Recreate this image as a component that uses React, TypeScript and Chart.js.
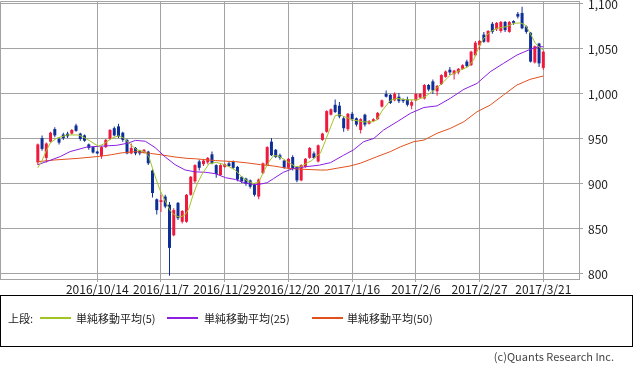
import React, { useEffect, useRef } from "react";
import { Chart, registerables } from "chart.js";
Chart.register(...registerables);

const opens = [
  924, 951, 929, 947, 961, 950, 955, 956, 956, 965,
  956, 954, 944, 941, 936, 931, 941, 950, 962, 964,
  957, 949, 934, 940, 937, 935, 936, 915, 883, 880,
  886, 877, 843, 879, 858, 858, 888, 903, 925, 922,
  924, 933, 921, 910, 919, 923, 925, 919, 908, 906,
  904, 899, 886, 912, 921, 947, 938, 932, 926, 918,
  930, 919, 904, 919, 929, 934, 925, 949, 958, 977,
  988, 987, 973, 961, 978, 973, 960, 977, 967, 970,
  972, 986, 1000, 999, 993, 997, 994, 994, 987, 993,
  996, 995, 1010, 1014, 1003, 1011, 1019, 1027, 1022, 1024,
  1028, 1036, 1032, 1043, 1054, 1066, 1058, 1078, 1072, 1070,
  1080, 1069, 1081, 1089, 1090, 1075, 1068, 1035, 1056, 1029,
];
const closes = [
  944, 939, 945, 957, 954, 946, 951, 953, 960, 959,
  950, 948, 940, 935, 934, 941, 949, 960, 954, 953,
  949, 934, 940, 934, 934, 938, 923, 890, 871, 882,
  875, 829, 871, 862, 870, 888, 908, 921, 918, 926,
  929, 923, 911, 921, 922, 920, 918, 905, 903, 900,
  897, 888, 905, 923, 941, 932, 930, 929, 918, 928,
  917, 904, 921, 928, 940, 929, 943, 956, 981, 983,
  980, 975, 962, 978, 972, 966, 972, 966, 970, 972,
  979, 993, 997, 990, 1000, 992, 992, 988, 991, 1000,
  1000, 1010, 1005, 1004, 1009, 1021, 1025, 1024, 1026, 1028,
  1032, 1031, 1047, 1057, 1059, 1058, 1070, 1069, 1079, 1080,
  1071, 1080, 1079, 1086, 1073, 1069, 1036, 1053, 1034, 1047,
];
const highs = [
  945, 954, 946, 958, 963, 952, 957, 958, 961, 967,
  957, 955, 945, 942, 937, 942, 950, 961, 964, 967,
  958, 950, 945, 941, 938, 939, 937, 916, 884, 888,
  888, 880, 873, 880, 871, 889, 909, 922, 927, 927,
  930, 936, 922, 922, 923, 925, 926, 920, 909, 907,
  905, 901, 906, 924, 942, 951, 939, 934, 927, 929,
  932, 920, 922, 929, 941, 936, 944, 957, 982, 984,
  994, 991, 975, 979, 980, 974, 973, 978, 971, 973,
  980, 994, 1004, 1000, 1002, 1001, 995, 997, 993, 1001,
  1001, 1011, 1011, 1016, 1010, 1022, 1026, 1030, 1027, 1029,
  1033, 1038, 1048, 1059, 1060, 1069, 1071, 1080, 1080, 1081,
  1081, 1081, 1082, 1091, 1097, 1076, 1069, 1054, 1057, 1048,
];
const lows = [
  921, 937, 924, 946, 952, 944, 949, 951, 955, 958,
  948, 947, 938, 934, 933, 928, 940, 949, 953, 951,
  947, 933, 933, 932, 932, 934, 921, 885, 866, 869,
  873, 798, 842, 860, 856, 857, 887, 901, 915, 920,
  922, 922, 907, 909, 918, 919, 917, 903, 901, 898,
  895, 886, 883, 911, 920, 931, 929, 927, 917, 917,
  915, 902, 903, 918, 928, 928, 924, 948, 957, 976,
  979, 973, 958, 959, 970, 964, 956, 964, 966, 969,
  971, 985, 996, 989, 992, 990, 990, 986, 983, 992,
  995, 994, 1003, 1000, 998, 1010, 1018, 1021, 1016, 1022,
  1027, 1030, 1031, 1042, 1049, 1057, 1057, 1067, 1070, 1068,
  1069, 1068, 1077, 1084, 1072, 1067, 1035, 1034, 1030, 1027,
];

const ma5Idx = [
  0, 1, 2, 3, 4.5, 7, 9.6, 11.2, 13.2, 14.3, 15.5, 17.5, 19, 20.2, 21.8, 23.3, 25, 26.1,
  27.3, 28.7, 30, 31.2, 32.3, 33.5, 34.7, 35.5, 36.5, 37.6, 38.8, 40.3, 42, 43.6, 45.1,
  46.6, 48.2, 49.5, 50.8, 52, 53.2, 54.3, 55.5, 56.7, 57.9, 59.4, 60.6, 61.8, 63.4, 64.5,
  65.3, 66.5, 67.7, 68.9, 70, 71.2, 72, 74.3, 76.7, 78.7, 79.8, 81, 83, 84.6, 86.9, 89.3,
  91.2, 93.2, 95.1, 97.1, 99.5, 101.4, 102.6, 103.8, 104.9, 106.5, 108.1, 110.5, 112,
  113.6, 114.8, 115.9, 117.1, 118.3, 119,
];
const ma5Val = [
  918, 926, 937, 946, 951, 954.5, 954.5, 951, 945, 942, 944.5, 951, 953.5, 951, 944, 938, 936, 931,
  913, 894, 881, 870, 865, 863, 866, 872, 887, 901, 912, 922.5, 924, 922, 919,
  915, 907, 903, 900.5, 902, 914, 924, 931.5, 931, 927.5, 923, 919.5, 919, 923.5, 926,
  930, 934, 948, 963, 976, 977, 975, 971, 969, 969, 971, 981, 993, 995, 993.5, 993.5,
  997, 1004, 1011.5, 1021, 1026.5, 1030.5, 1038, 1052, 1061.5, 1069, 1073, 1075, 1078.5,
  1079, 1076.5, 1067.5, 1056.5, 1051, 1049,
];
const ma25Idx = [
  0, 3, 5.3, 7.6, 11.5, 14.7, 18.6, 21.3, 23, 25.3, 27.6, 30, 32.3, 34.7, 37.1, 39.4, 41.8,
  44.2, 46.5, 48.5, 50.5, 52, 54, 55.5, 57.8, 60.1, 63.2, 66.3, 68.9, 72, 74.3, 76.7, 79.1,
  81.4, 84.6, 87.7, 90.9, 94, 97.1, 100.3, 103.4, 106.5, 109.6, 112.8, 115.9, 117.9, 119,
];
const ma25Val = [
  921.5, 926.5, 930.5, 936, 941, 942, 943, 945.5, 948.5, 947.5, 940.5, 930, 921.5, 915.5, 913.5, 913, 911.5,
  907, 905, 901.5, 899.5, 899.5, 901.5, 906, 913, 917.2, 919.2, 921, 923.7, 932, 937.8, 947, 950.6,
  960, 969.2, 978.5, 985, 986.8, 995.2, 1005.2, 1011.8, 1024.7, 1034, 1043.3, 1049.6, 1052.5, 1052.5,
];
const ma50Idx = [
  0, 4, 9.5, 14.5, 17.3, 19.6, 23, 26.5, 28.9, 32.3, 35.1, 37.1, 41.8, 46.5, 49.2, 52.4, 55.5,
  58.6, 61.8, 66.5, 68, 70.4, 73.5, 75.9, 79.8, 83, 85.4, 88.5, 90.9, 94, 97.1, 100.3, 103.4,
  106.5, 109.6, 112.8, 115.9, 119,
];
const ma50Val = [
  924.8, 926.7, 928.5, 930.7, 932.5, 934.5, 936, 934, 932.5, 930, 928.5, 928, 926, 924.8, 923.5, 921.5, 920,
  917.5, 916.5, 915.5, 915.5, 917.5, 920, 923, 930.3, 936, 941.4, 947, 948.8, 956.3, 961.8, 969.2, 980.3,
  987.7, 998.8, 1010, 1016.3, 1020,
];

const dateTickIdx = [14, 29, 44, 59, 74, 89, 104, 119];
const dateTickLabels = [
  "2016/10/14", "2016/11/7", "2016/11/29", "2016/12/20",
  "2017/1/16", "2017/2/6", "2017/2/27", "2017/3/21",
];
const priceTicks = [800, 850, 900, 950, 1000, 1050, 1100];

const legendNames = ["単純移動平均(5)", "単純移動平均(25)", "単純移動平均(50)"];

const RED = "#ee1a3e";
const BLUE = "#0e2f98";
const C5 = "#a2c425";
const C25 = "#8c1fe0";
const C50 = "#e2501e";
const GRID = "#a3a3a3";
const FONT = "'Noto Sans CJK JP', 'Noto Sans', sans-serif";

const frame = {
  id: "frame",
  beforeDatasetsDraw(chart: any) {
    const { ctx, chartArea: a } = chart;
    ctx.save();
    ctx.strokeStyle = GRID;
    ctx.lineWidth = 1;
    ctx.beginPath();
    ctx.moveTo(a.left + 0.5, a.bottom);
    ctx.lineTo(a.left + 0.5, a.top + 0.5);
    ctx.lineTo(a.right, a.top + 0.5);
    ctx.stroke();
    ctx.restore();
  },
};

export default function App() {
  const ref = useRef<HTMLCanvasElement>(null);
  useEffect(() => {
    const idx = opens.map((_, i) => i);
    const colors = idx.map((i) => (closes[i] >= opens[i] ? RED : BLUE));
    const line = (xs: number[], ys: number[], color: string) => ({
      type: "line" as const,
      data: xs.map((x, k) => ({ x, y: ys[k] })),
      borderColor: color,
      borderWidth: 1,
      pointRadius: 0,
      tension: 0,
      order: 0,
    });
    const chart = new Chart(ref.current!, {
      type: "bar",
      data: {
        datasets: [
          line(ma5Idx, ma5Val, C5) as any,
          line(ma25Idx, ma25Val, C25) as any,
          line(ma50Idx, ma50Val, C50) as any,
          {
            type: "bar",
            data: idx.map((i) => ({ x: i, y: [lows[i], highs[i]] })),
            backgroundColor: colors,
            barThickness: 1,
            grouped: false,
            inflateAmount: 0,
            borderWidth: 0,
            order: 2,
          } as any,
          {
            type: "bar",
            data: idx.map((i) => ({ x: i, y: [opens[i], closes[i]] })),
            backgroundColor: colors,
            barThickness: 3,
            grouped: false,
            inflateAmount: 0,
            borderWidth: 0,
            order: 1,
          } as any,
        ],
      },
      options: {
        animation: false,
        responsive: false,
        devicePixelRatio: 1,
        layout: { padding: { top: 1, left: 0, right: 0, bottom: 0 } },
        plugins: { legend: { display: false }, tooltip: { enabled: false } },
        scales: {
          x: {
            type: "linear",
            min: -8.9,
            max: 127.4,
            offset: false,
            grid: { color: GRID, offset: false, drawTicks: true, tickLength: 3 },
            border: { color: GRID },
            afterBuildTicks: (s: any) => {
              s.ticks = dateTickIdx.map((v) => ({ value: v }));
            },
            afterFit: (s: any) => {
              s.height = 21;
              s.paddingLeft = 0;
              s.paddingRight = 0;
            },
            ticks: {
              autoSkip: false,
              maxRotation: 0,
              minRotation: 0,
              padding: 0,
              color: "#222",
              font: { family: FONT, size: 12 },
              callback: (v: any) => {
                const k = dateTickIdx.indexOf(Number(v));
                return k >= 0 ? dateTickLabels[k] : "";
              },
            },
          },
          y: {
            type: "linear",
            position: "right",
            min: 794.44,
            max: 1103.33,
            beginAtZero: false,
            grid: { color: GRID, drawTicks: true, tickLength: 4 },
            border: { color: GRID },
            afterBuildTicks: (s: any) => {
              s.ticks = priceTicks.map((v) => ({ value: v }));
            },
            afterFit: (s: any) => {
              s.width = 54;
              s.paddingTop = 0;
              s.paddingBottom = 0;
            },
            ticks: {
              padding: 5,
              color: "#222",
              font: { family: FONT, size: 12 },
              callback: (v: any) => Number(v).toLocaleString("en-US"),
            },
          },
        },
      },
      plugins: [frame],
    } as any);
    return () => chart.destroy();
  }, []);

  const textStyle: React.CSSProperties = {
    position: "absolute",
    top: 312,
    fontFamily: FONT,
    fontSize: 11,
    lineHeight: "13px",
    color: "#222",
    whiteSpace: "nowrap",
  };
  const lineStyle = (left: number, color: string): React.CSSProperties => ({
    position: "absolute",
    left,
    top: 317,
    width: 31,
    height: 2,
    background: color,
  });

  return (
    <div style={{ position: "absolute", left: 0, top: 0, width: 633, height: 371, background: "#fff" }}>
      <canvas ref={ref} width={633} height={300} style={{ position: "absolute", left: 0, top: 0, width: 633, height: 300 }} />
      <div
        style={{
          position: "absolute",
          left: 0,
          top: 295,
          width: 633,
          height: 52,
          border: "1px solid #000",
          boxSizing: "border-box",
        }}
      />
      <span style={{ ...textStyle, left: 8 }}>上段:</span>
      <div style={lineStyle(40, C5)} />
      <span style={{ ...textStyle, left: 76 }}>{legendNames[0]}</span>
      <div style={lineStyle(167, C25)} />
      <span style={{ ...textStyle, left: 204 }}>{legendNames[1]}</span>
      <div style={lineStyle(312, C50)} />
      <span style={{ ...textStyle, left: 347 }}>{legendNames[2]}</span>
      <span
        style={{
          position: "absolute",
          right: 19,
          top: 350,
          fontFamily: FONT,
          fontSize: 11,
          lineHeight: "13px",
          color: "#444",
          whiteSpace: "nowrap",
        }}
      >
        (c)Quants Research Inc.
      </span>
    </div>
  );
}
